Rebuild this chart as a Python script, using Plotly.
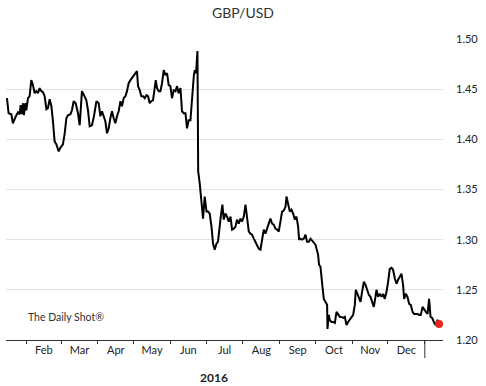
import pandas as pd
import plotly.graph_objects as go

# Days since 2016-01-01 and GBP/USD close values
days = [14.4, 15.8, 18.1, 19.4, 21.5, 23.7, 25.1, 25.9, 26.8, 27.9, 28.7, 29.9, 30.7, 32.1, 33.5,
        34.9, 36.3, 37.7, 39.1, 40.5, 41.9, 43.4, 44.7, 46.1, 47.6, 48.9, 50.3, 51.8, 53.1, 54.5,
        56.0, 57.9, 59.6, 61.5, 63.0, 64.4, 65.7, 67.8, 69.1, 70.5, 72.2, 74.2, 75.6, 77.5, 79.2,
        81.2, 82.6, 84.0, 85.9, 87.6, 89.7, 91.6,
        93.0, 94.4, 95.8, 97.2, 98.6, 100.0, 101.4, 102.8, 104.2, 105.6, 107.0, 108.4, 109.9, 111.2,
        112.6, 114.1, 115.4, 116.8, 118.3, 119.6, 121.0, 122.5, 123.8, 124.7, 126.1, 127.5, 128.9,
        130.3, 131.7, 133.1, 134.5, 135.9, 137.3, 138.7, 139.6, 140.7, 142.1, 143.5, 144.9, 146.3,
        147.7, 149.1, 150.5, 151.9, 153.3, 154.7, 156.2, 157.5, 158.9, 160.4, 161.7, 163.1, 164.6,
        165.9, 167.3, 168.8, 170.1, 171.6, 172.4, 173.5, 174.7,
        175.3, 176.6, 178.0, 179.4, 180.8, 182.3, 183.6, 185.0, 186.5, 187.8, 189.2, 190.7, 192.0,
        193.4, 194.3, 195.7, 196.8, 198.2, 199.6, 201.0, 202.5, 203.8, 205.2, 206.7, 208.0, 209.4,
        210.9, 212.2, 213.7, 215.1, 216.4, 217.9, 219.3, 220.6, 222.1, 223.5, 224.8, 226.3, 227.7,
        229.0, 230.5, 231.9, 233.3, 234.7, 236.1, 237.5, 238.9, 240.3, 241.7, 243.1, 244.5, 245.9,
        247.3, 248.8, 249.6, 250.9, 252.4, 253.8, 255.2, 256.6, 258.0, 259.4, 260.2, 261.4, 262.7,
        264.2, 265.6, 266.9, 268.4, 269.8, 272.0, 274.0, 276.2, 277.0, 278.2, 279.1, 279.9, 281.0,
        282.4, 283.8, 284.1, 285.2, 286.0, 287.5, 288.8, 290.3, 291.7, 293.0, 294.5, 295.9, 297.3,
        298.7, 300.1, 301.5, 302.9, 304.3, 305.7, 307.1, 307.9, 309.0, 310.5, 311.9, 313.2, 314.7,
        316.1, 317.4, 318.9, 320.3, 321.7, 323.1, 324.5, 325.3, 326.7, 328.1, 329.6, 330.9, 332.3,
        333.8, 335.1, 336.5, 338.0, 339.3, 340.8, 342.2, 343.5, 344.9, 346.4, 347.7, 348.6, 350.0,
        351.4, 352.8, 354.2, 355.7, 357.0, 358.4, 359.9, 361.2, 362.6, 364.1, 365.4, 366.9, 368.3,
        369.6, 370.8, 372.2, 373.6, 375.0, 376.7, 378.0]

gbpusd = [1.441, 1.426, 1.425, 1.416, 1.422, 1.427, 1.425, 1.434, 1.425, 1.436, 1.424, 1.436, 1.429, 1.441, 1.443,
          1.459, 1.454, 1.446, 1.448, 1.446, 1.451, 1.448, 1.447, 1.443, 1.430, 1.431, 1.440, 1.433, 1.418, 1.398,
          1.395, 1.388, 1.392, 1.395, 1.406, 1.421, 1.424, 1.425, 1.429, 1.438, 1.436, 1.426, 1.414, 1.448, 1.444,
          1.439, 1.429, 1.413, 1.414, 1.423, 1.438, 1.436,
          1.423, 1.428, 1.423, 1.418, 1.406, 1.411, 1.421, 1.428, 1.421, 1.416, 1.423, 1.428, 1.438, 1.433,
          1.441, 1.443, 1.448, 1.456, 1.459, 1.461, 1.464, 1.466, 1.468, 1.453, 1.449, 1.443, 1.443,
          1.441, 1.444, 1.443, 1.436, 1.438, 1.439, 1.451, 1.459, 1.451, 1.448, 1.448, 1.456, 1.469,
          1.464, 1.466, 1.454, 1.453, 1.441, 1.449, 1.448, 1.453, 1.446, 1.451, 1.428, 1.426, 1.426,
          1.411, 1.419, 1.419, 1.441, 1.463, 1.469, 1.466, 1.488,
          1.368, 1.356, 1.340, 1.321, 1.343, 1.328, 1.328, 1.326, 1.313, 1.296, 1.290, 1.296, 1.298,
          1.316, 1.323, 1.335, 1.320, 1.326, 1.323, 1.318, 1.323, 1.310, 1.311, 1.313, 1.320, 1.316,
          1.321, 1.318, 1.323, 1.335, 1.323, 1.308, 1.306, 1.305, 1.301, 1.298, 1.295, 1.291, 1.290,
          1.301, 1.310, 1.306, 1.311, 1.315, 1.321, 1.316, 1.315, 1.311, 1.310, 1.308, 1.320, 1.328,
          1.329, 1.333, 1.343, 1.335, 1.328, 1.330, 1.326, 1.320, 1.323, 1.313, 1.300, 1.301, 1.300,
          1.301, 1.305, 1.298, 1.298, 1.301, 1.298, 1.295, 1.285, 1.275, 1.273, 1.265, 1.253, 1.241,
          1.238, 1.235, 1.211, 1.225, 1.220, 1.218, 1.218, 1.217, 1.228, 1.225, 1.223, 1.223, 1.222,
          1.223, 1.215, 1.218, 1.220, 1.222, 1.225, 1.235, 1.250, 1.247, 1.241, 1.238, 1.248, 1.258,
          1.255, 1.251, 1.245, 1.243, 1.238, 1.233, 1.243, 1.250, 1.243, 1.246, 1.243, 1.246, 1.241,
          1.248, 1.258, 1.271, 1.272, 1.270, 1.261, 1.256, 1.260, 1.263, 1.266, 1.255, 1.241, 1.246,
          1.243, 1.236, 1.235, 1.228, 1.226, 1.226, 1.226, 1.225, 1.225, 1.233, 1.230, 1.228, 1.226,
          1.241, 1.223, 1.222, 1.218, 1.215, 1.220, 1.216]

y_ticks = [1.20, 1.25, 1.30, 1.35, 1.40, 1.45, 1.50]
y_tick_labels = ["1.20", "1.25", "1.30", "1.35", "1.40", "1.45", "1.50"]
month_labels = ["Feb", "Mar", "Apr", "May", "Jun", "Jul", "Aug", "Sep", "Oct", "Nov", "Dec"]

base = pd.Timestamp("2016-01-01")
dates = base + pd.to_timedelta(days, unit="D")

month_starts = pd.date_range("2016-02-01", "2017-01-01", freq="MS")
month_mids = [s + (e - s) / 2 for s, e in zip(month_starts[:-1], month_starts[1:])]
x_range = [base + pd.Timedelta(days=13.6), base + pd.Timedelta(days=381.3)]

FONT = "Lato, 'Open Sans', sans-serif"

fig = go.Figure()
fig.add_trace(go.Scatter(x=dates, y=gbpusd, mode="lines",
                         line=dict(color="#000000", width=2), hoverinfo="skip"))
fig.add_trace(go.Scatter(x=[dates[-1]], y=[gbpusd[-1]], mode="markers",
                         marker=dict(color="#e8261e", size=8), hoverinfo="skip"))

fig.update_layout(
    width=486, height=386,
    margin=dict(l=6, r=43, t=39, b=46),
    paper_bgcolor="white", plot_bgcolor="white",
    showlegend=False,
    title=dict(text="GBP/USD", x=0.5, xanchor="center", y=0.967, yanchor="middle",
               font=dict(family=FONT, size=14, color="#333333")),
    font=dict(family=FONT),
)
fig.update_xaxes(
    range=x_range, type="date",
    tickmode="array", tickvals=month_mids, ticktext=month_labels,
    ticks="", ticklen=0,
    tickfont=dict(family=FONT, size=11, color="#222222"),
    showgrid=False, zeroline=False,
    showline=True, linecolor="#333333", linewidth=1,
    minor=dict(tickmode="array", tickvals=list(month_starts), ticks="outside",
               ticklen=3, tickcolor="#333333", showgrid=False),
)
fig.update_yaxes(
    range=[1.20, 1.50], side="right",
    tickmode="array", tickvals=y_ticks, ticktext=y_tick_labels,
    ticks="", ticklabelstandoff=12,
    tickfont=dict(family=FONT, size=11, color="#222222"),
    showgrid=True, gridcolor="#e3e3e3", gridwidth=1,
    zeroline=False, showline=False,
)
# year divider tick
fig.add_shape(type="line", xref="x", yref="paper",
              x0=month_starts[-1], x1=month_starts[-1], y0=0, y1=-0.06,
              line=dict(color="#333333", width=1))
fig.add_annotation(text="<b>2016</b>", xref="x", yref="paper",
                   x=pd.Timestamp("2016-07-08"), y=-0.125, yanchor="middle", showarrow=False,
                   font=dict(family=FONT, size=12, color="#222222"))
fig.add_annotation(text="The Daily Shot®", xref="paper", yref="paper",
                   x=0.045, xanchor="left", y=0.078, yanchor="middle", showarrow=False,
                   font=dict(family=FONT, size=10.5, color="#333333"))

fig.write_html("out.html", config={"displayModeBar": False},
               post_script="document.body.style.margin='0';document.body.style.padding='0';")
